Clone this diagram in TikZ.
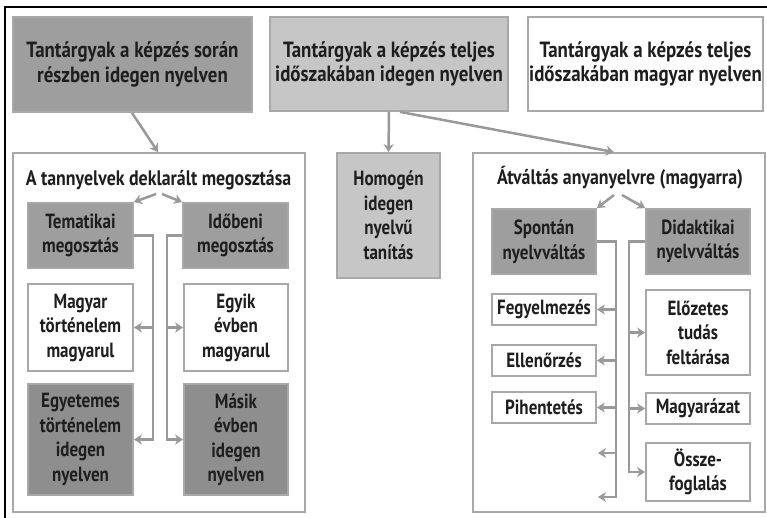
\documentclass[tikz,border=0pt]{standalone}
\usepackage{fontspec}
\setmainfont{PT Sans}
\newfontfamily\fta{PT Sans}[FakeStretch=0.86]
\newfontfamily\ftb{PT Sans}[FakeStretch=0.85]
\newfontfamily\ftc{PT Sans}[FakeStretch=0.83]
\usetikzlibrary{arrows.meta}
\definecolor{bd}{HTML}{A8A8A8}
\definecolor{dk}{HTML}{9E9E9E}
\definecolor{dkk}{HTML}{8E8E8E}
\definecolor{lt}{HTML}{C6C6C6}
\definecolor{ar}{HTML}{999999}
\definecolor{tx}{HTML}{1E1E1E}
\newcommand{\fsa}{\fta\fontsize{22}{24.5}\selectfont\bfseries}
\newcommand{\fsb}{\ftb\fontsize{21}{24.5}\selectfont\bfseries}
\newcommand{\fsc}{\ftc\fontsize{20.5}{24.5}\selectfont\bfseries}
\tikzset{
  box/.style={draw=bd, line width=1.8, inner sep=0pt, align=center, font=\fsc, text=tx},
  dkbox/.style={box, fill=dk},
  dkkbox/.style={box, fill=dkk},
  ltbox/.style={box, fill=lt},
  whbox/.style={box, fill=white},
  topbox/.style={font=\fsa},
  con/.style={draw=ar, line width=2.5},
  arr/.style={con, -{Stealth[length=8, width=10, inset=2.5]}},
  ttl/.style={inner sep=0pt, font=\fsb, text=tx}
}
\begin{document}
\begin{tikzpicture}[x=1pt, y=-1pt]
\useasboundingbox (0,0) rectangle (767,518);
\fill[white] (0,0) rectangle (767,518);
\draw[black, line width=1.6] (5,518) -- (5,7) -- (767,7);

% top row
\node[dkbox, topbox, minimum width=239, minimum height=95] (a) at (132.5,64.5) {Tantárgyak a képzés során\\részben idegen nyelven};
\node[ltbox, topbox, minimum width=238, minimum height=94] (b) at (389,64) {Tantárgyak a képzés teljes\\időszakában idegen nyelven};
\node[whbox, topbox, minimum width=235, minimum height=94] (c) at (645.5,64) {Tantárgyak a képzés teljes\\időszakában magyar nyelven};

% containers
\node[whbox, minimum width=292, minimum height=359] (d) at (159,332.5) {};
\node[ltbox, minimum width=103, minimum height=125] (e) at (388.5,215.5) {Homogén\\idegen\\nyelvű\\tanítás};
\node[whbox, minimum width=292, minimum height=359] (f) at (619,332.5) {};

\node[ttl] (dt) at (158.5,180) {A tannyelvek deklarált megosztása};
\node[ttl] (ft) at (620,178) {Átváltás anyanyelvre (magyarra)};

% left container content
\node[dkbox, minimum width=105, minimum height=65] (tema) at (80.5,235.5) {Tematikai\\megosztás};
\node[dkbox, minimum width=105, minimum height=65] (idob) at (235.5,235.5) {Időbeni\\megosztás};
\node[whbox, minimum width=105, minimum height=87] (magy) at (80.5,327.5) {Magyar\\történelem\\magyarul};
\node[whbox, minimum width=104, minimum height=87] (egyik) at (236,327.5) {Egyik\\évben\\magyarul};
\node[dkkbox, minimum width=105, minimum height=111] (egyet) at (80.5,439.5) {Egyetemes\\történelem\\idegen\\nyelven};
\node[dkkbox, minimum width=104, minimum height=111] (masik) at (236,439.5) {Másik\\évben\\idegen\\nyelven};

% right container content
\node[dkbox, minimum width=104, minimum height=65] (spon) at (544,241.5) {Spontán\\nyelvváltás};
\node[dkbox, minimum width=104, minimum height=65] (dida) at (698,241.5) {Didaktikai\\nyelvváltás};
\node[whbox, minimum width=104, minimum height=31] (fegy) at (544,309.5) {Fegyelmezés};
\node[whbox, minimum width=104, minimum height=31] (ell) at (544,360.5) {Ellenőrzés};
\node[whbox, minimum width=104, minimum height=31] (pih) at (544,407.5) {Pihentetés};
\node[whbox, minimum width=104, minimum height=85] (elo) at (698,332.5) {Előzetes\\tudás\\feltárása};
\node[whbox, minimum width=104, minimum height=31] (magz) at (698,408.5) {Magyarázat};
\node[whbox, minimum width=104, minimum height=58] (ossz) at (698,472) {Össze-\\foglalás};

% main arrows
\draw[arr] ([xshift=-0.5]a.south) -- ([xshift=-1]d.north);
\draw[arr] (b.south) -- (e.north);
\draw[arr] ([xshift=11]b.south) -- ([xshift=-5]f.north);

% left container arrows
\coordinate (dl) at (156,194);
\coordinate (dr) at (162,194);
\draw[arr] (dl) -- (tema.north east);
\draw[arr] (dr) -- (idob.north west);
\draw[arr] (tema.east) -- ++(19,0) |- (egyet.east);
\draw[arr] ([xshift=19]tema.east) |- (magy.east);
\draw[arr] (idob.west) -- ++(-15,0) |- (masik.west);
\draw[arr] ([xshift=-15]idob.west) |- (egyik.west);

% right container arrows
\coordinate (fl) at (614,195);
\coordinate (fr) at (622,195);
\draw[arr] (fl) -- (spon.north east);
\draw[arr] (fr) -- (dida.north west);
\coordinate (f1) at (598,453);
\coordinate (f2) at (598,497);
\draw[arr] (spon.east) -- ++(19,0) |- (f2);
\draw[arr] ([xshift=19]spon.east) |- (fegy.east);
\draw[arr] ([xshift=19]spon.east) |- (ell.east);
\draw[arr] ([xshift=19]spon.east) |- (pih.east);
\draw[arr] ([xshift=19]spon.east) |- (f1);
\draw[arr] (dida.west) -- ++(-16,0) |- (ossz.west);
\draw[arr] ([xshift=-16]dida.west) |- (elo.west);
\draw[arr] ([xshift=-16]dida.west) |- (magz.west);
\end{tikzpicture}
\end{document}
